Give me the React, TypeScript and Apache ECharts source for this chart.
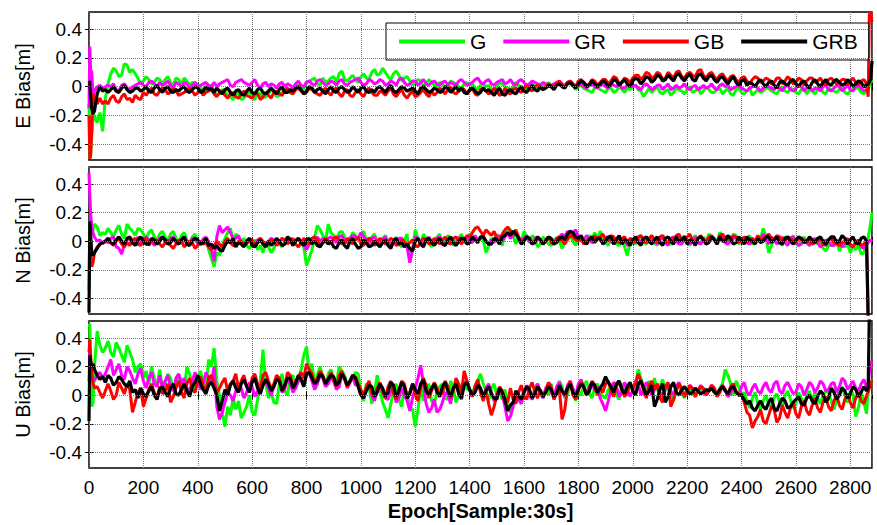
import { useEffect, useRef } from 'react';
import * as echarts from 'echarts';

// Epoch positions (x values) of the main sampled points
const EPOCHS = [
  0, 3, 6, 10, 15, 20, 30, 40, 50, 60,
  80, 100, 120, 140, 160, 180, 200, 220, 240, 260,
  280, 300, 320, 340, 360, 380, 400, 420, 440, 460,
  480, 500, 520, 540, 560, 580, 600, 620, 640, 660,
  680, 700, 720, 740, 760, 780, 800, 820, 840, 860,
  880, 900, 920, 940, 960, 980, 1000, 1020, 1040, 1060,
  1080, 1100, 1120, 1140, 1160, 1180, 1200, 1220, 1240, 1260,
  1280, 1300, 1320, 1340, 1360, 1380, 1400, 1420, 1440, 1460,
  1480, 1500, 1520, 1540, 1560, 1580, 1600, 1620, 1640, 1660,
  1680, 1700, 1720, 1740, 1760, 1780, 1800, 1820, 1840, 1860,
  1880, 1900, 1920, 1940, 1960, 1980, 2000, 2020, 2040, 2060,
  2080, 2100, 2120, 2140, 2160, 2180, 2200, 2220, 2240, 2260,
  2280, 2300, 2320, 2340, 2360, 2380, 2400, 2420, 2440, 2460,
  2480, 2500, 2520, 2540, 2560, 2580, 2600, 2620, 2640, 2660,
  2680, 2700, 2720, 2740, 2760, 2780, 2800, 2820, 2840, 2860,
  2866, 2870, 2875, 2880,
];
// Epoch positions of the in-between points (noise band edges)
const MID_EPOCHS = [
  70, 90, 110, 130, 150, 170, 190, 210, 230, 250,
  270, 290, 310, 330, 350, 370, 390, 410, 430, 450,
  470, 490, 510, 530, 550, 570, 590, 610, 630, 650,
  670, 690, 710, 730, 750, 770, 790, 810, 830, 850,
  870, 890, 910, 930, 950, 970, 990, 1010, 1030, 1050,
  1070, 1090, 1110, 1130, 1150, 1170, 1190, 1210, 1230, 1250,
  1270, 1290, 1310, 1330, 1350, 1370, 1390, 1410, 1430, 1450,
  1470, 1490, 1510, 1530, 1550, 1570, 1590, 1610, 1630, 1650,
  1670, 1690, 1710, 1730, 1750, 1770, 1790, 1810, 1830, 1850,
  1870, 1890, 1910, 1930, 1950, 1970, 1990, 2010, 2030, 2050,
  2070, 2090, 2110, 2130, 2150, 2170, 2190, 2210, 2230, 2250,
  2270, 2290, 2310, 2330, 2350, 2370, 2390, 2410, 2430, 2450,
  2470, 2490, 2510, 2530, 2550, 2570, 2590, 2610, 2630, 2650,
  2670, 2690, 2710, 2730, 2750, 2770, 2790, 2810, 2830, 2850,
];

const X_MAX = 2880;
const X_INTERVAL = 200;
const Y_MIN = -0.51;
const Y_MAX = 0.52;
const Y_TICKS = [-0.4, -0.2, 0, 0.2, 0.4];
const SERIES_NAMES = ['G', 'GR', 'GB', 'GRB'];
const COLORS = ['#00ff00', '#ff00ff', '#ff0000', '#000000'];
const PANEL_NAMES = ['E Bias[m]', 'N Bias[m]', 'U Bias[m]'];
const X_TITLE = 'Epoch[Sample:30s]';

// ---- Values in centimetres (divided by 100 to get metres) ----
// E component
const E_G = [
  -12, -50, -48, -35, -22, -20, -25, -18, -31, -8,
  9, 11, 8, 15, 12, 6, 4, 5, 3, 5,
  5, 3, 6, 2, 4, 3, 1, -2, 0, -3,
  -5, -3, -7, -6, -9, -5, -7, -4, -8, -5,
  -3, -6, -2, -4, -1, 0, 3, 5, 2, 6,
  4, 7, 9, 5, 6, 5, 7, 6, 10, 8,
  13, 7, 9, 8, 6, 4, 3, 4, 2, 3,
  0, 2, 1, 3, 0, 2, 1, -1, 1, 0,
  -2, 0, 2, -1, 0, 1, -1, 1, 0, 2,
  1, 0, 2, 1, 3, 1, 0, -1, -3, -1,
  -2, -4, -1, -3, -2, -1, 0, -2, -7, -1,
  -2, -4, -3, -6, -1, -3, -2, -4, -1, -3,
  -2, -4, -1, -3, -5, -2, -4, -3, -6, -2,
  -3, -1, -4, -2, -3, -1, -4, -2, -5, -3,
  -2, -4, -1, -3, -2, -4, -3, -1, -4, -2,
  -3, 0, 5, 3,
];
const E_G_MID = [
  2, 13, 7, 16, 10, 9, 2, 7, 2, 6,
  2, 7, 1, 5, 6, 1, 3, -1, -4, 1,
  -6, -2, -6, -9, -4, -8, -3, -9, -5, -7,
  -2, -7, -4, -1, -5, 1, -2, 4, 6, 1,
  3, 6, 3, 11, 4, 8, 3, 9, 5, 12,
  9, 10, 5, 11, 4, 7, 1, 5, 0, 5,
  1, 3, -1, 4, 2, -1, 3, 2, -2, 2,
  1, -3, 3, 0, -2, 3, 0, -2, 2, -1,
  1, 3, -1, 3, 0, 2, -2, 1, -2, -4,
  0, -3, -1, -4, 0, -4, -2, 1, -3, -4,
  -4, 0, -5, -2, -4, -2, -5, 0, -3, -5,
  0, -4, -2, -5, -1, -6, -1, -5, -1, -4,
  -4, -1, -3, -5, 0, -4, -2, -5, -1, -2,
  -5, 0, -5, -2, -4, 0, -5, -2, -1, -5,
];
const E_GR = [
  -15, 28, 12, 10, -8, -3, 0, 1, -1, 0,
  0, -2, 1, -1, 0, 2, 1, 3, 2, 3,
  2, 1, 3, 0, 2, 1, 0, 2, 1, 3,
  2, 4, 1, 3, 5, 2, 3, 1, 2, 0,
  1, 2, 0, 1, 2, 1, 3, 2, 4, 3,
  2, 3, 4, 2, 3, 5, 3, 2, 4, 3,
  4, 2, 3, 5, 3, 2, 4, 3, 2, 3,
  2, 3, 1, 2, 4, 3, 2, 5, 3, 4,
  2, 3, 5, 3, 2, 4, 3, 2, 3, 1,
  2, 1, 3, 2, 3, 2, 1, 0, 1, 0,
  1, 0, 2, 0, -1, 1, 0, -1, 1, 0,
  -1, 1, 0, -2, 1, 0, -1, 0, -2, 1,
  0, -1, 1, 0, -2, 0, -1, -3, 0, -1,
  -1, 0, -2, -1, 0, -2, -1, 0, -1, -3,
  -1, 0, -2, -1, 0, -1, -2, 0, -1, -2,
  -1, 5, 10, 8,
];
const E_GR_MID = [
  1, 2, -3, 2, -2, 1, 3, 0, 4, 0,
  1, 4, -1, 2, 3, -1, 3, 1, 3, 0,
  0, 3, 5, 0, 4, 3, 1, 5, -1, 3,
  2, -1, 3, 2, -1, 4, 0, 4, 1, 5,
  1, 4, 1, 5, 1, 4, 6, 1, 5, 2,
  5, 1, 4, 1, 6, 1, 4, 1, 5, 1,
  4, 1, 4, 3, 1, 5, 1, 3, 6, 2,
  5, 1, 4, 2, 5, 1, 5, 1, 4, 2,
  3, 0, 2, 4, 1, 4, 0, 2, -1, 2,
  -1, 2, -1, 1, 2, -1, 2, 1, -2, 2,
  -2, 1, -2, 2, -1, -1, 2, -2, 1, -1,
  -1, 2, -2, 2, 1, -1, 1, -2, -1, 1,
  -3, 1, -1, 1, -3, 1, -3, 1, -3, 0,
  -1, -3, 1, -3, 1, -3, 1, -3, 1, -3,
];
const E_GB = [
  -20, -50, -48, -30, -5, -10, -12, -8, -12, -10,
  -8, -10, -7, -9, -11, -8, -4, -3, -5, -3,
  -2, -4, -3, -5, -2, -3, -4, -6, -3, -5,
  -4, -6, -5, -7, -5, -6, -8, -5, -7, -6,
  -4, -5, -3, -4, -2, -3, -4, -2, -5, -3,
  -4, -2, -5, -3, -6, -4, -5, -3, -4, -6,
  -4, -3, -5, -4, -6, -5, -7, -4, -5, -3,
  -4, -3, -2, -4, -3, -2, -3, -5, -2, -3,
  -4, -3, -5, -4, -2, -3, -1, -2, 0, -1,
  0, 1, 2, 1, 3, 2, 4, 3, 2, 4,
  3, 5, 4, 6, 3, 5, 6, 8, 7, 9,
  7, 9, 6, 8, 10, 7, 9, 8, 11, 8,
  9, 7, 8, 6, 7, 5, 6, 4, 5, 6,
  4, 5, 3, 6, 4, 5, 3, 5, 4, 6,
  4, 3, 5, 4, 3, 5, 4, 3, 4, 2,
  -7, 50, 52, 45,
];
const E_GB_MID = [
  -12, -6, -11, -5, -8, -6, -9, -6, -1, -6,
  -1, -5, -1, -6, -4, -1, -6, -2, -4, -2,
  -7, -3, -8, -4, -8, -3, -7, -5, -9, -4,
  -8, -3, -6, -1, -5, -1, -5, -1, -4, -6,
  -1, -6, -1, -7, -2, -7, -2, -7, -1, -6,
  -3, -6, -1, -7, -2, -8, -3, -6, -2, -7,
  -6, -1, -5, 0, -5, -1, -5, -1, -6, -1,
  -5, -1, -6, -1, -5, -1, -4, 1, -3, 1,
  -2, 2, -1, 4, 0, 4, 0, 5, 1, 5,
  1, 5, 2, 7, 2, 6, 3, 8, 5, 10,
  6, 10, 5, 10, 6, 11, 6, 10, 7, 12,
  6, 10, 5, 9, 4, 8, 3, 7, 2, 7,
  3, 6, 2, 6, 2, 7, 2, 6, 1, 6,
  3, 6, 1, 6, 2, 5, 1, 6, 1, 5,
];
const E_GRB = [
  4, 3, -8, -15, -19, -17, -5, 0, -3, -2,
  -2, -3, -1, -2, -3, -1, -2, -3, -1, -2,
  -1, -3, -2, -1, -3, -2, -1, -3, -2, -4,
  -3, -2, -4, -3, -5, -3, -4, -2, -4, -3,
  -3, -2, -4, -2, -1, -2, -3, -1, -2, -3,
  -2, -3, -1, -2, -3, -2, -1, -3, -2, -1,
  -2, -1, -3, -2, -1, -2, -3, -1, -2, -3,
  -2, -3, -1, -2, -3, -4, -2, -3, -4, -3,
  -4, -3, -5, -3, -4, -2, -3, -1, -2, 0,
  -1, 0, 1, 0, 2, 1, 2, 3, 1, 2,
  2, 3, 2, 4, 3, 2, 4, 5, 4, 6,
  5, 7, 5, 6, 8, 6, 7, 5, 8, 6,
  7, 5, 6, 4, 5, 3, 4, 1, 2, 3,
  2, 3, 1, 3, 2, 4, 2, 3, 1, 3,
  2, 3, 2, 4, 3, 2, 3, 2, 3, 1,
  2, 3, 5, 18,
];
const E_GRB_MID = [
  -4, 0, -4, 1, -4, -1, -3, 0, -4, 1,
  -4, 0, -4, -3, 0, -4, 0, -4, 0, -1,
  -1, -5, -1, -6, -2, -6, -1, -5, -1, -5,
  -1, -5, 0, -4, -3, 0, -5, 0, -4, -1,
  -5, 0, -4, 0, -4, 0, -4, 0, -4, -4,
  0, -4, 1, -4, 0, -3, -1, -5, 0, -4,
  -1, -4, 0, -4, 0, -1, -5, -1, -5, -1,
  -2, -6, -1, -6, -2, -5, 0, -4, 1, -3,
  -2, 1, -2, 2, -1, 3, -1, 4, 0, 4,
  0, 4, 0, 5, 1, 5, 0, 6, 2, 7,
  3, 8, 4, 8, 4, 9, 4, 9, 4, 9,
  4, 8, 3, 7, 2, 7, 1, 5, 3, 0,
  5, 0, 4, -1, 4, 1, 5, 0, 4, -1,
  5, 0, 5, 1, 5, 1, 5, 0, 4, 0,
];

// N component
const N_G = [
  -34, 14, 10, 5, 8, 12, 10, 4, 6, 5,
  6, 8, 5, 12, 7, 9, 5, 6, 3, 5,
  3, 5, 2, 4, 1, 3, 0, 2, -6, -18,
  -10, 2, 9, 5, 0, -3, -2, -6, -8, -4,
  -5, -2, 0, 2, 0, -1, -17, -6, 11, 4,
  12, 4, 6, 3, 2, 4, 5, 1, 3, 0,
  2, 0, -1, -2, 1, -14, 8, -3, 2, -4,
  3, -2, 4, -3, 2, -1, 5, 1, 3, -8,
  2, 5, -3, 10, 4, 3, 7, -1, 2, -2,
  1, -3, 2, -5, 3, 0, 2, -2, 4, 6,
  7, -1, 3, -2, 1, -10, 0, 2, -1, 1,
  -1, 2, 0, -2, 3, 1, -1, 2, 0, 3,
  5, 2, 6, 3, 1, 4, 0, 2, -2, 3,
  9, -8, 2, -1, 3, 0, -2, 1, -1, 0,
  -2, -5, -3, 1, -7, -4, -8, -6, -9, -3,
  3, 7, 13, 20,
];
const N_G_MID = [
  9, 3, 11, 2, 9, 4, 8, 2, 8, 1,
  7, 0, 7, -1, 6, -2, 5, -3, 2, -12,
  -8, -3, 6, 1, 3, 2, -5, 1, -3, -1,
  -8, 0, -4, 3, -3, 2, -4, -12, 3, 8,
  0, 6, 1, 7, -1, 6, 1, 7, -2, 5,
  -3, 4, -3, 3, -4, 5, -6, 2, 5, -1,
  0, 5, 0, 2, 1, 5, 0, 4, -1, 1,
  -3, 0, 1, 5, 8, -2, 0, 3, 4, -4,
  3, -2, 1, 0, -1, 4, -3, 3, 0, 2,
  2, 3, -3, 2, -3, -4, -1, -2, 4, -2,
  3, -3, 4, -2, 1, 0, 4, -3, 4, -2,
  0, 3, -1, 4, -1, 5, -2, 3, 4, -1,
  2, 3, -3, 3, -3, 2, 4, -3, 3, -3,
  1, -1, -7, -3, 0, -2, -2, -4, -2, -8,
];
const N_GR = [
  48, 32, 20, 10, 6, 3, 0, 1, -2, 0,
  2, -4, -9, 1, -2, 3, 0, 1, -3, 2,
  0, 2, -1, 1, 0, 2, -2, 1, 0, -14,
  11, 8, 6, 2, -1, 0, -2, 1, -1, 0,
  1, -1, 0, 2, 1, 0, -6, 0, 3, 2,
  2, 1, 3, 0, 2, 3, 6, 1, 2, 0,
  1, -1, 0, 2, -1, -15, 3, -1, 1, 0,
  2, 0, 1, -1, 3, 1, 0, 4, 2, 0,
  1, 3, 0, 6, 4, 3, 2, 0, 2, 0,
  1, 0, 2, 5, 7, 6, 3, 1, 2, 0,
  1, 3, 0, 2, -1, -3, 0, 2, 1, -1,
  0, 1, -1, 2, 0, -2, 1, 0, -1, 2,
  0, 2, 1, -1, 0, 3, 1, -1, 0, 2,
  5, -2, 1, 0, -1, 2, 0, -2, -1, 0,
  -1, -2, 0, -3, -1, -2, -3, -1, -4, -2,
  -1, 0, 1, 0,
];
const N_GR_MID = [
  -1, 3, -5, -2, 2, 0, -2, 3, 0, -1,
  3, -2, 3, -2, 3, -1, 2, -1, 3, -6,
  3, 6, 10, 2, 4, -2, 2, -1, 2, -2,
  2, -2, 2, -1, -1, 2, -2, -2, -1, 0,
  -1, 3, -1, 4, -1, 4, 2, 3, -1, 3,
  -2, 3, -2, -2, 2, -4, -6, 2, -2, 3,
  -2, 3, -2, 3, -3, 0, 3, -1, 1, 4,
  -2, -1, 4, 3, 2, 6, 0, 4, -2, 3,
  -2, 3, -2, 3, 3, 4, 8, 0, 4, -1,
  3, -1, 2, -2, 3, 1, -2, 3, -1, 3,
  1, -2, 3, -3, 3, -2, 2, -2, 3, -2,
  -1, 3, -2, 3, -2, 2, -1, 3, -2, -1,
  1, 2, 3, -2, 3, -3, 3, -3, 1, -3,
  2, -4, 1, -3, 1, -4, 0, -4, 0, -5,
];
const N_GB = [
  -3, -5, -12, -18, -15, -8, -4, -2, -1, 0,
  -1, 0, -2, -1, 1, -2, 0, -3, -1, -2,
  -1, -3, -2, 0, -2, -1, -3, -2, -4, -3,
  -2, 0, -1, -3, 0, -2, 1, -1, 0, -2,
  0, -1, 1, 0, -2, -1, 0, 2, 1, -1,
  0, 2, 1, -1, 0, 1, -2, 0, 1, -1,
  0, -1, 1, -2, 0, -1, -3, 0, 1, -1,
  0, 1, -1, 2, 0, 1, 3, 9, 7, 8,
  4, 2, 5, 10, 5, 3, 1, 2, 0, 1,
  1, -1, 2, 0, 1, 3, 0, -2, 2, 4,
  3, 1, 4, 0, 2, -1, 1, 3, 0, 2,
  1, 3, 0, 2, 4, 1, 3, 0, 2, 1,
  3, 1, 4, 2, 0, 3, 1, -1, 2, 4,
  2, 5, 1, 3, 0, 2, -1, 1, 0, -2,
  0, -2, 1, -1, -3, 0, -2, -1, -3, 0,
  -55, -55, -55, -55,
];
const N_GB_MID = [
  2, -3, 2, -4, -3, 2, -3, 2, 1, 1,
  -4, 1, -5, 1, -4, 0, -5, 0, -1, -6,
  0, -4, 2, -3, 0, -3, 1, -3, 2, -3,
  1, -3, 2, -2, 2, -4, 2, -2, 3, -3,
  2, -2, 3, -2, 2, -2, 3, -3, 2, -3,
  2, -2, 2, -3, 1, -3, 1, -4, 2, -2,
  2, -2, 3, -2, 3, -2, 4, 6, 10, 4,
  6, 7, 0, 8, 7, 8, 0, 3, -1, 3,
  -2, 3, -2, 3, -2, 4, 1, 2, 0, 1,
  1, 5, 0, 3, -1, 3, 2, -1, 4, -1,
  4, -1, 4, -1, 1, 5, 0, 5, -1, 4,
  0, 4, -1, 5, 3, 4, -1, 3, 1, 0,
  1, 3, 2, 4, 1, 3, 0, 2, 1, 0,
  -1, 2, -3, 2, -2, -1, 2, -4, 1, -2,
];
const N_GRB = [
  -50, 14, 5, -9, -10, -8, -5, -2, -1, 0,
  -1, 1, 0, 2, -1, 1, 0, -2, 1, 0,
  1, -1, 0, 1, -2, 0, 1, -1, -3, -5,
  -6, -3, -1, -4, -2, 0, -3, -1, -2, 0,
  -1, 0, -2, 1, 0, -1, 1, -2, -3, -1,
  -2, -4, -1, -3, 0, -2, -4, -1, -3, -2,
  -1, -3, 0, -2, -4, -5, 0, -2, 1, -1,
  0, -2, 1, -1, 0, 2, -1, 1, 3, 0,
  -2, 1, 3, 6, 7, 2, 0, 2, -1, 1,
  0, 2, -1, 3, 5, 6, 2, 0, 1, -1,
  2, 0, 3, 1, -2, 0, 1, -1, 2, 0,
  1, -1, 2, 0, 3, 1, -2, 0, 2, 1,
  -1, 1, 3, 0, 2, -1, 1, 3, 0, 2,
  0, 3, 1, -1, 2, 0, 1, 2, 0, 1,
  2, 0, 1, 3, 0, 2, 1, -1, 2, 0,
  -55, -55, -55, -55,
];
const N_GRB_MID = [
  2, -2, 3, -2, 3, -3, 3, -2, 2, -2,
  3, -2, 2, -2, 3, -3, 2, -2, 2, -2,
  -3, -7, 0, 2, -1, -4, 2, -4, 1, -4,
  -3, 2, -3, 3, -3, 2, -3, 2, 0, -4,
  1, 0, -5, 1, -5, 2, -5, 1, -4, 0,
  -4, 1, -5, 2, -1, -2, -7, 2, -4, 2,
  -3, 2, -3, 3, -3, 2, -2, 3, -1, 3,
  -2, 2, -2, 4, 4, 5, -2, 3, -2, 3,
  -2, 3, -2, 2, 1, 7, 3, 4, -2, 3,
  2, -2, 3, -2, 4, 1, -3, 3, -3, 3,
  -2, 3, -3, 3, -2, 0, 3, 1, -3, 3,
  -2, 3, -2, 0, 4, -2, 3, -2, 1, -2,
  -1, 3, -1, 3, -2, 3, -2, 3, -1, 3,
  -1, 3, -2, 3, -1, 4, -2, 3, -2, 3,
];

// U component
const U_G = [
  48, 50, 15, -8, -5, 20, 45, 35, 30, 33,
  30, 37, 28, 35, 25, 20, 12, 8, 12, 18,
  8, 12, 6, 10, 20, 8, 12, 9, 25, 33,
  0, -22, -14, -10, -16, -8, -12, -3, 32, -2,
  -5, 8, 3, 12, 5, 18, 34, 22, 14, 12,
  15, 12, 20, 14, 10, 16, 2, 8, -6, 14,
  -5, -16, 2, -3, 5, -8, -22, 6, 3, -4,
  2, 8, -3, 5, 0, 10, 4, 7, 15, 3,
  5, 0, -3, -8, -5, -2, 3, 0, 5, 2,
  4, 8, 2, 6, 0, 5, 3, 7, 2, 5,
  3, -2, 5, 0, 8, 2, 4, 18, 6, 10,
  12, 6, 3, 0, 5, 2, 4, 1, 3, 2,
  4, 3, 5, 18, 8, 10, 0, -4, -2, -6,
  -4, -6, -2, -5, 0, -3, -6, -2, 0, -4,
  -2, 0, 2, -10, 4, 0, 3, -15, 2, -13,
  5, 10, 10, 8,
];
const U_G_MID = [
  38, 27, 33, 23, 30, 16, 22, 17, 20, 6,
  5, 15, 4, 14, 3, 15, 2, 17, 4, 20,
  10, -12, -8, -2, -4, -12, 0, -14, 10, 8,
  2, -6, 15, 0, 14, 10, 28, 16, 8, 20,
  6, 18, 8, 17, 6, 12, 15, -4, 6, 2,
  4, -10, -6, 8, -8, 2, -10, -10, -4, 8,
  -6, 6, -2, 10, -5, 6, 4, 0, 10, 8,
  -4, 8, 3, 4, -12, 2, -6, 6, -3, 8,
  -2, 0, -3, 10, -2, 9, -4, 0, 10, -2,
  8, -1, 4, 9, -3, 2, 7, 8, 12, 2,
  5, 3, 11, 8, -4, 7, -2, 5, -1, 5,
  0, 6, -1, 8, 14, 0, 6, 2, -9, 2,
  -10, 0, -8, 1, -8, 3, -9, 2, -7, 3,
  2, -6, 3, -4, -3, 6, -5, 1, -9, -5,
];
const U_GR = [
  10, 30, 22, 15, 12, 10, 14, 16, 12, 15,
  25, 18, 14, 20, 12, 15, 10, 12, 8, 14,
  10, 6, 12, 8, 5, 10, 12, 8, 12, 20,
  -17, -5, 0, 3, 5, 2, 6, 3, 8, 5,
  6, 10, 4, 8, 5, 12, 14, 10, 8, 12,
  8, 10, 6, 12, 9, 7, 3, 5, 0, 4,
  2, -3, 4, -2, 0, -11, 5, 21, -6, -9,
  -12, -5, 0, 5, 2, 8, 4, 6, 3, 5,
  2, -2, 0, -18, -8, -3, 2, 0, 4, 2,
  5, 2, 6, 3, 7, 4, 8, 5, 6, 3,
  -2, -11, 4, 6, 2, 5, 3, 8, 4, 6,
  4, 2, 5, 3, 6, 4, 2, 5, 3, 4,
  3, 5, 2, 4, 1, 3, 6, 2, 5, 3,
  6, 4, 8, 3, 7, 5, 2, 6, 4, 7,
  5, 8, 4, 9, 6, 10, 7, 5, 8, 6,
  8, 15, 22, 24,
];
const U_GR_MID = [
  20, 14, 22, 11, 17, 8, 19, 5, 16, 6,
  5, 14, 3, 15, 12, 3, 16, 4, 16, 9,
  -8, -12, 2, -4, 8, -2, 9, -1, 1, 10,
  0, 12, 2, 12, 2, 10, 7, 16, 4, 14,
  6, 13, 4, 14, 5, 13, 8, 0, 8, -4,
  7, -2, 3, -5, 5, -4, -2, 12, 8, -12,
  -3, -10, 2, -6, 9, -3, 10, -1, 10, -2,
  8, -4, 5, -8, -15, 2, -6, 7, -3, 8,
  -2, 8, -2, 9, -1, 10, 0, 11, 1, 9,
  6, -6, -4, 9, -1, 9, -1, 10, 0, 9,
  0, 8, -1, 8, 0, 9, 0, 7, 0, 7,
  0, 7, 0, 7, -1, 6, 0, 9, 0, 8,
  1, 9, 2, 10, 1, 9, 1, 8, 0, 9,
  2, 10, 3, 8, 2, 12, 4, 10, 3, 11,
];
const U_GB = [
  30, 39, 28, 15, 8, 5, 6, 2, -2, 3,
  3, 0, 5, 8, -12, 2, -8, 4, 2, 6,
  3, -5, 5, 2, 8, 4, 10, 6, 12, 8,
  5, 12, 8, 15, 10, 6, 12, 8, 14, 10,
  8, 12, 6, 14, 10, 16, 22, 15, 12, 14,
  12, 10, 14, 11, 9, 13, 4, 6, 2, 5,
  3, 6, 1, 4, 8, 2, 0, 5, 7, 3,
  5, 2, 6, 3, 8, 17, 4, 6, 2, 3,
  -14, 0, 3, -5, -3, 2, 0, 5, 2, 4,
  3, 6, 2, -17, 5, 0, 4, 6, 3, 7,
  5, 8, 3, 6, 4, 2, 5, 15, 3, 7,
  4, -2, 6, -8, 3, 5, 2, 4, 3, 5,
  3, 5, 2, 4, 6, 3, 1, -12, -23, -15,
  -18, -14, -10, -16, -12, -9, -13, -8, -11, -7,
  -9, -5, -8, -4, -7, -3, -5, -2, -4, 0,
  2, 5, 8, 10,
];
const U_GB_MID = [
  8, -3, 9, 1, 4, -5, 5, -2, 8, -2,
  1, 8, -1, 10, -2, 12, 2, 13, 3, 14,
  2, 9, 3, 10, 4, 14, 2, 15, 4, 16,
  4, 14, 4, 16, 5, 13, 12, 18, 8, 17,
  8, 16, 6, 17, 6, 14, 8, 0, 10, -1,
  9, -2, 10, -3, 10, -2, 8, -4, 12, -2,
  9, -1, 10, -2, 12, 2, 10, -1, 11, -4,
  -6, -8, 6, -2, 5, -6, 7, -3, 9, -2,
  -1, 9, -3, 4, -10, 10, -3, 9, 0, 10,
  0, 2, 10, -1, 10, -1, 9, 8, 10, -2,
  10, 8, -5, 9, -3, 8, -1, 7, -1, 6,
  0, 7, -1, 7, 0, 8, 0, -5, -14, -18,
  -10, -20, -8, -19, -7, -16, -5, -16, -4, -14,
  -2, -12, -1, -11, 0, -10, 1, -9, 2, -6,
];
const U_GRB = [
  -18, 28, 24, 20, 22, 18, 14, 11, 13, 9,
  12, 9, 11, 6, 2, -2, 1, 3, 0, 4,
  2, 5, 1, 4, 3, 6, 14, 4, 7, 5,
  -11, 4, 7, 5, 8, 6, 9, 5, 7, 8,
  6, 10, 7, 12, 8, 11, 15, 12, 10, 13,
  11, 13, 9, 12, 10, 12, 0, 3, 6, 2,
  5, 2, 7, 3, 6, 1, 4, 8, 3, 5,
  2, 6, 3, 5, 1, 7, 4, 2, 5, 3,
  1, -3, 2, -11, -5, 0, 2, 4, 1, 3,
  2, 4, 1, 3, 5, 2, 4, 6, 3, 7,
  5, 13, 6, 8, 4, 6, 3, 8, 5, 3,
  -8, 4, -5, 6, 2, 4, 3, 2, 3, 2,
  3, 2, 4, 3, 5, 2, 0, -6, -9, -7,
  -8, -5, -9, -6, -4, -8, -3, -6, -2, -4,
  -1, 1, -2, 2, 0, 3, 1, 4, 2, 3,
  5, 55, 55, 55,
];
const U_GRB_MID = [
  14, 7, 13, 8, 10, 4, 5, -1, 6, -3,
  6, -1, 8, 0, 8, -1, 9, 8, 1, 9,
  0, -4, 0, 10, 2, 11, 2, 12, 1, 11,
  3, 11, 3, 12, 5, 14, 6, 16, 8, 15,
  8, 14, 7, 15, 7, 14, 6, -2, 7, -1,
  8, -1, 9, -1, 9, -2, 8, 1, 11, 0,
  8, -1, 9, -1, 8, -2, 9, 0, 7, -1,
  6, -2, 5, -4, -7, 3, -3, 6, -2, 6,
  -1, 6, -1, 7, 0, 8, -1, 8, 0, 9,
  2, 8, 9, 2, 10, 1, 9, 0, 10, 0,
  7, -3, 8, -1, 9, 0, 6, 1, 5, 1,
  4, 5, 1, 6, 1, 6, 0, -3, -4, -11,
  -4, -10, -2, -11, -2, -9, -5, -1, -7, 0,
  -6, 3, -5, 5, -3, 5, -2, 6, -1, 6,
];

const PANELS = [
  [E_G, E_GR, E_GB, E_GRB],
  [N_G, N_GR, N_GB, N_GRB],
  [U_G, U_GR, U_GB, U_GRB],
];
const PANELS_MID = [
  [E_G_MID, E_GR_MID, E_GB_MID, E_GRB_MID],
  [N_G_MID, N_GR_MID, N_GB_MID, N_GRB_MID],
  [U_G_MID, U_GR_MID, U_GB_MID, U_GRB_MID],
];
const LINE_WIDTHS = [3, 3, 3, 3.2];

const FONT = 'Liberation Sans, Arial, Helvetica, sans-serif';

function buildSeriesData(main: number[], mid: number[]): number[][] {
  const pts: number[][] = [];
  const n = Math.min(main.length, EPOCHS.length);
  for (let k = 0; k < n; k++) pts.push([EPOCHS[k], main[k] / 100]);
  const m = Math.min(mid.length, MID_EPOCHS.length);
  for (let k = 0; k < m; k++) pts.push([MID_EPOCHS[k], mid[k] / 100]);
  pts.sort((a, b) => a[0] - b[0]);
  return pts;
}

function buildOption() {
  const gridTops = [12, 167, 321];
  const gridHeights = [148, 147, 147];
  const grid = gridTops.map((top, i) => ({
    left: 89,
    right: 5,
    top,
    height: gridHeights[i],
    show: true,
    borderColor: '#000',
    borderWidth: 1.5,
    backgroundColor: '#fff',
  }));

  const xAxis: any[] = [];
  const yAxis: any[] = [];
  for (let i = 0; i < 3; i++) {
    xAxis.push({
      gridIndex: i,
      type: 'value',
      position: 'bottom',
      min: 0,
      max: X_MAX,
      interval: X_INTERVAL,
      axisLine: { show: false },
      axisTick: { show: true, inside: true, length: 4, lineStyle: { color: '#000', width: 1 } },
      axisLabel: {
        show: i === 2,
        showMaxLabel: false,
        color: '#000',
        fontSize: 19,
        fontFamily: FONT,
        margin: 10,
        formatter: (v: number) => String(Math.round(v)),
      },
      splitLine: { show: true, lineStyle: { type: 'dotted', color: '#777', width: 1 } },
      name: i === 2 ? X_TITLE : '',
      nameLocation: 'middle',
      nameGap: 33,
      nameTextStyle: { color: '#000', fontSize: 20, fontWeight: 'bold', fontFamily: FONT },
    });
    xAxis.push({
      gridIndex: i,
      type: 'value',
      position: 'top',
      min: 0,
      max: X_MAX,
      interval: X_INTERVAL,
      axisLine: { show: false },
      axisTick: { show: true, inside: true, length: 4, lineStyle: { color: '#000', width: 1 } },
      axisLabel: { show: false },
      splitLine: { show: false },
    });
    yAxis.push({
      gridIndex: i,
      type: 'value',
      position: 'left',
      min: Y_MIN,
      max: Y_MAX,
      axisLine: { show: false },
      axisTick: { show: true, inside: true, length: 4, customValues: Y_TICKS, lineStyle: { color: '#000' } },
      axisLabel: {
        customValues: Y_TICKS,
        color: '#000',
        fontSize: 19,
        fontFamily: FONT,
        margin: 7,
        formatter: (v: number) => (Math.abs(v) < 1e-9 ? '0' : v.toFixed(1)),
      },
      splitLine: { show: false },
      name: PANEL_NAMES[i],
      nameLocation: 'middle',
      nameGap: 56,
      nameRotate: 90,
      nameTextStyle: { color: '#000', fontSize: 20, fontFamily: FONT },
    });
    yAxis.push({
      gridIndex: i,
      type: 'value',
      position: 'right',
      min: Y_MIN,
      max: Y_MAX,
      axisLine: { show: false },
      axisTick: { show: true, inside: true, length: 4, customValues: Y_TICKS, lineStyle: { color: '#000' } },
      axisLabel: { show: false },
      splitLine: { show: false },
    });
  }

  const series: any[] = [];
  PANELS.forEach((arrs, p) => {
    arrs.forEach((vals, s) => {
      const ser: any = {
        type: 'line',
        name: SERIES_NAMES[s],
        xAxisIndex: p * 2,
        yAxisIndex: p * 2,
        data: buildSeriesData(vals, PANELS_MID[p][s]),
        showSymbol: false,
        symbol: 'none',
        clip: true,
        lineStyle: { color: COLORS[s], width: LINE_WIDTHS[s] },
        itemStyle: { color: COLORS[s] },
        emphasis: { disabled: true },
      };
      if (s === 0) {
        ser.markLine = {
          silent: true,
          symbol: ['none', 'none'],
          label: { show: false },
          lineStyle: { type: 'dotted', color: '#777', width: 1 },
          emphasis: { disabled: true },
          data: Y_TICKS.map((v) => ({ yAxis: v })),
        };
      }
      series.push(ser);
    });
  });

  return {
    animation: false,
    backgroundColor: '#fff',
    textStyle: { fontFamily: FONT },
    grid,
    xAxis,
    yAxis,
    legend: {
      data: SERIES_NAMES,
      left: 386,
      top: 23,
      orient: 'horizontal',
      icon: 'rect',
      itemWidth: 66,
      itemHeight: 4,
      itemGap: 17,
      padding: [8, 11, 8, 13],
      backgroundColor: '#fff',
      borderColor: '#000',
      borderWidth: 1,
      selectedMode: false,
      textStyle: { color: '#000', fontSize: 21, fontFamily: FONT },
    },
    series,
  };
}

export default function App() {
  const ref = useRef<HTMLDivElement>(null);
  useEffect(() => {
    if (!ref.current) return;
    const chart = echarts.init(ref.current, null, { renderer: 'svg' });
    chart.setOption(buildOption() as any);
    return () => {
      chart.dispose();
    };
  }, []);
  return (
    <div
      ref={ref}
      style={{ position: 'absolute', left: 0, top: 0, width: 877, height: 525, background: '#fff' }}
    />
  );
}
